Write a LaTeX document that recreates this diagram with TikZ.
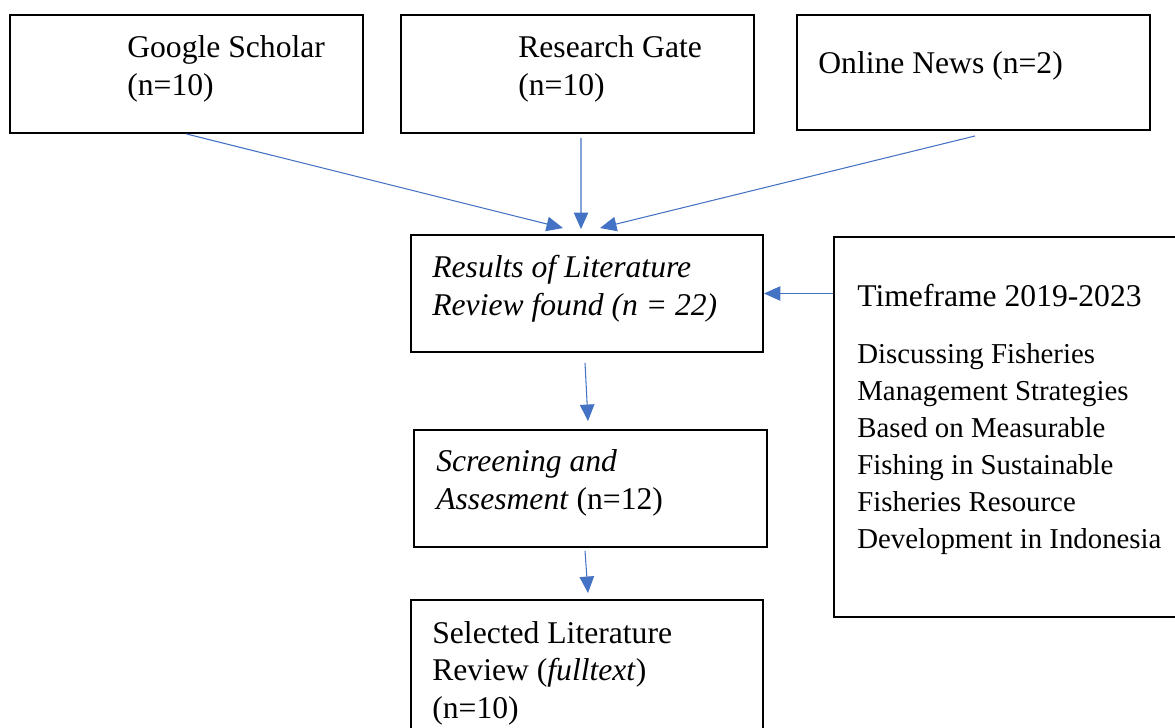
\documentclass[tikz,border=0pt]{standalone}
\usepackage{fontspec}
\setmainfont{Liberation Serif}
\usepackage{xcolor}
\usetikzlibrary{arrows.meta,positioning,fit,calc}
\definecolor{linkblue}{HTML}{4472C4}

\begin{document}
\begin{tikzpicture}[x=0.02cm,y=-0.02cm,
  box/.style={draw, line width=1.1pt, inner sep=0pt},
  link/.style={draw=linkblue, line width=0.6pt, -{Triangle[length=0.33cm,width=0.29cm]}},
  txt/.style={anchor=base west, inner sep=0pt, align=left, font=\fontsize{18}{21.3}\selectfont},
  lst/.style={anchor=base west, inner sep=0pt, align=left, font=\fontsize{16.4}{21}\selectfont}]
\useasboundingbox (0,0) rectangle (1175,727);

% Sources (text nodes sit on the baseline of their last line)
\node[box, fit={(10,15) (363,133)}] (gs) {};
\node[txt] (gstext) at (127,95) {Google Scholar\\(n=10)};
\node[box, fit={(401,15) (754,133)}] (rg) {};
\node[txt] (rgtext) at (518,95) {Research Gate\\(n=10)};
\node[box, fit={(797,15) (1150,130)}] (on) {};
\node[txt] (ontext) at (818,73) {Online News (n=2)};

% Results
\node[box, fit={(411,235) (763,352)}] (res) {};
\node[txt] (restext) at (432,315) {\textit{Results of Literature}\\\textit{Review found (n = 22)}};

% Criteria
\node[box, fit={(834,237) (1178,617)}] (tf) {};
\node[txt] (tftext) at (857,306) {Timeframe 2019-2023};
\node[lst] (tflist) at (857,548) {Discussing Fisheries\\Management Strategies\\Based on Measurable\\Fishing in Sustainable\\Fisheries Resource\\Development in Indonesia};

% Screening
\node[box, fit={(414,430) (767,547)}] (scr) {};
\node[txt] (scrtext) at (436,509) {\textit{Screening and}\\\textit{Assesment} (n=12)};

% Selected
\node[box, fit={(411,600) (763,745)}] (sel) {};
\node[txt] (seltext) at (432,718) {Selected Literature\\Review (\textit{fulltext})\\(n=10)};

% Connectors
\draw[link] (gs.south) -- ($(res.north)+(-24,-6)$);
\draw[link] ($(rg.south)+(3.5,4)$) -- ($(res.north)+(-6,-5)$);
\draw[link] ($(on.south)+(1.5,5)$) -- ($(res.north)+(13,-6)$);
\draw[link] (res.east -| tf.west) -- (res.east);
\draw[link] ($(res.south)+(-2,10)$) -- ($(scr.north)+(-2.5,-8)$);
\draw[link] ($(scr.south)+(-5.5,3)$) -- ($(sel.north)+(1,-6)$);
\end{tikzpicture}
\end{document}
